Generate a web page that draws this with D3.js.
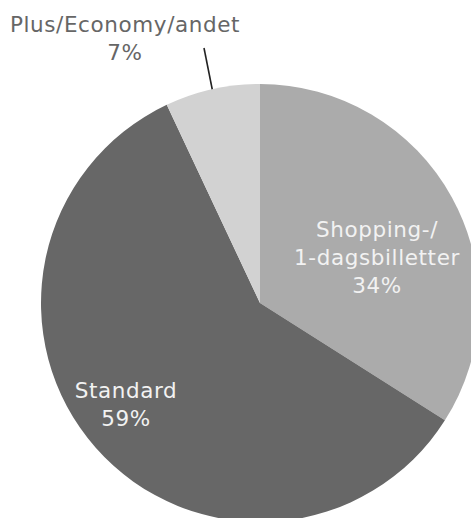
<!DOCTYPE html>
<html><head><meta charset="utf-8">
<script src="https://cdn.jsdelivr.net/npm/d3@7"></script>
<style>html,body{margin:0;padding:0;background:#fff;overflow:hidden}</style>
</head><body>
<svg id="c" width="471" height="518"></svg>
<script>
const categories = ["Shopping-/ 1-dagsbilletter", "Standard", "Plus/Economy/andet"];
const labelLines = [["Shopping-/", "1-dagsbilletter"], ["Standard"], ["Plus/Economy/andet"]];
const values = [34, 59, 7];
const colors = ["#ababab", "#676767", "#d2d2d2"];

const svg = d3.select("#c");
const cx = 260, cy = 303, R = 219;
const g = svg.append("g").attr("transform", `translate(${cx},${cy})`);
const pie = d3.pie().sort(null).value(d => d)(values);
const arc = d3.arc().innerRadius(0).outerRadius(R);
g.selectAll("path").data(pie).enter().append("path")
  .attr("d", arc).attr("fill", (d, i) => colors[i]);

const font = "'DejaVu Sans', Verdana, sans-serif";
// label positions (relative to centre)
const labelPos = [[117, -66], [-134, 95], [-135, -271]];
const textCol = ["#f2f2f2", "#f2f2f2", "#666666"];
pie.forEach((d, i) => {
  const lines = labelLines[i].concat([values[i] + "%"]);
  const t = g.append("text")
    .attr("text-anchor", "middle")
    .attr("font-family", font)
    .attr("font-size", 21.5)
    .attr("letter-spacing", 0.6)
    .attr("fill", textCol[i]);
  lines.forEach((l, j) => {
    t.append("tspan").attr("x", labelPos[i][0]).attr("y", labelPos[i][1] + j * 28).text(l);
  });
});
// leader line for small slice
const a = (pie[2].startAngle + pie[2].endAngle) / 2;
g.append("line")
  .attr("x1", -56).attr("y1", -255)
  .attr("x2", Math.sin(a) * R * 1.0).attr("y2", -Math.cos(a) * R * 1.0)
  .attr("stroke", "#222").attr("stroke-width", 1.6);
</script>
</body></html>
